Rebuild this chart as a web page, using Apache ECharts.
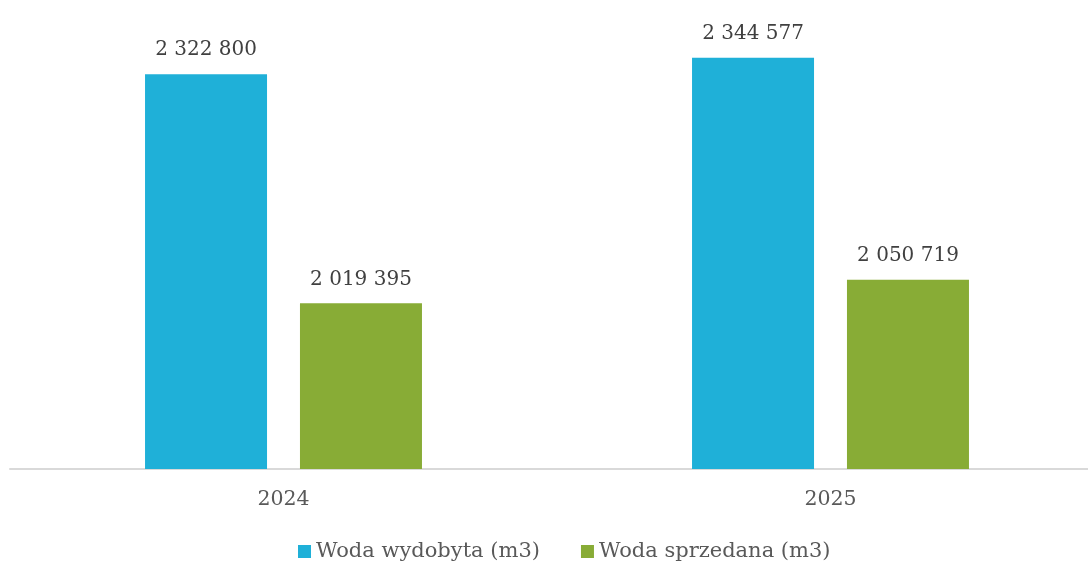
<!DOCTYPE html>
<html>
<head>
<meta charset="utf-8">
<script src="https://cdn.jsdelivr.net/npm/echarts@6/dist/echarts.min.js"></script>
<style>
html,body{margin:0;padding:0;background:#fff;}
#chart{width:1088px;height:563px;}
</style>
</head>
<body>
<div id="chart"></div>
<script>
const categories = ['2024', '2025'];
const seriesNames = ['Woda wydobyta (m3)', 'Woda sprzedana (m3)'];
const wodaWydobyta = [2322800, 2344577];
const wodaSprzedana = [2019395, 2050719];
const colors = ['#1FB0D8', '#88AC36'];

function fmt(v) {
  return String(v).replace(/\B(?=(\d{3})+(?!\d))/g, ' ');
}

const font = 'DejaVu Serif';
const chart = echarts.init(document.getElementById('chart'), null, {renderer: 'canvas'});
chart.setOption({
  animation: false,
  color: colors,
  grid: {left: 10, right: -16, top: 16, bottom: 94, containLabel: false, outerBoundsMode: 'none'},
  legend: {
    bottom: -4,
    left: 293,
    itemWidth: 13,
    itemHeight: 13,
    itemGap: 41,
    icon: 'rect',
    textStyle: {fontFamily: font, fontSize: 21, color: '#595959'},
    data: seriesNames
  },
  xAxis: {
    type: 'category',
    data: categories,
    axisLine: {lineStyle: {color: '#D9D9D9', width: 2}},
    axisTick: {show: false},
    axisLabel: {fontFamily: font, fontSize: 20.5, color: '#595959', margin: 20}
  },
  yAxis: {
    type: 'value',
    min: 1800000,
    max: 2400000,
    show: false,
    splitLine: {show: false}
  },
  series: [
    {
      name: seriesNames[0],
      type: 'bar',
      data: wodaWydobyta,
      barWidth: 122,
      barGap: '27%',
      label: {show: true, position: 'top', distance: 14, fontFamily: font, fontSize: 20, color: '#404040', formatter: p => fmt(p.value)}
    },
    {
      name: seriesNames[1],
      type: 'bar',
      data: wodaSprzedana,
      barWidth: 122,
      barGap: '27%',
      label: {show: true, position: 'top', distance: 14, fontFamily: font, fontSize: 20, color: '#404040', formatter: p => fmt(p.value)}
    }
  ]
});
</script>
</body>
</html>
